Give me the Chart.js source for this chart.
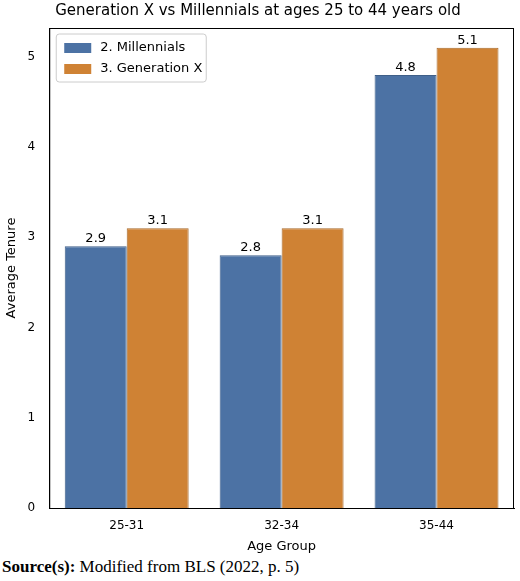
<!DOCTYPE html>
<html>
<head>
<meta charset="utf-8">
<script src="https://cdn.jsdelivr.net/npm/chart.js@4"></script>
<style>
  body { margin: 0; background: #fff; }
  #wrap { width: 520px; height: 556px; }
  #source { font-family: "Liberation Serif", "Times New Roman", serif; font-size: 17px; margin: 0 0 0 2px; line-height: 22px; }
</style>
</head>
<body>
<div id="wrap"><canvas id="barChart"></canvas></div>
<div id="source"><b>Source(s):</b> Modified from BLS (2022, p. 5)</div>
<script>
const ageGroups = ["25-31", "32-34", "35-44"];
const millennials = [2.9, 2.8, 4.8];
const generationX = [3.1, 3.1, 5.1];
const yTicks = [0, 1, 2, 3, 4, 5];

const extras = {
  id: "extras",
  afterDatasetsDraw(chart) {
    const ctx = chart.ctx;
    const a = chart.chartArea;
    ctx.save();
    // bar value labels
    ctx.fillStyle = "#000";
    ctx.font = "13px 'DejaVu Sans'";
    ctx.textAlign = "center";
    ctx.textBaseline = "bottom";
    chart.data.datasets.forEach((ds, i) => {
      chart.getDatasetMeta(i).data.forEach((bar, j) => {
        ctx.fillText(ds.data[j].toFixed(1), bar.x, bar.y - 1);
      });
    });
    // frame around plot
    ctx.strokeStyle = "#000";
    ctx.lineWidth = 1;
    ctx.strokeRect(a.left + 0.5, a.top + 0.5, a.right - a.left - 1, a.bottom - a.top);
    // legend
    const lx = a.left + 7, ly = a.top + 6;
    ctx.fillStyle = "rgba(255,255,255,0.85)";
    ctx.strokeStyle = "#ccc";
    ctx.beginPath();
    ctx.roundRect(lx, ly, 150, 48, 3);
    ctx.fill();
    ctx.stroke();
    ctx.textAlign = "left";
    ctx.textBaseline = "middle";
    chart.data.datasets.forEach((ds, i) => {
      const y = ly + 14 + i * 21;
      ctx.fillStyle = ds.backgroundColor;
      ctx.fillRect(lx + 8, y - 5, 27, 10);
      ctx.fillStyle = "#000";
      ctx.fillText(ds.label, lx + 44, y);
    });
    ctx.restore();
  }
};

const ctx = document.getElementById("barChart").getContext("2d");
new Chart(ctx, {
  type: "bar",
  data: {
    labels: ageGroups,
    datasets: [
      { label: "2. Millennials", data: millennials, backgroundColor: "#4c72a4", borderColor: "#3f5f88", borderWidth: 1 },
      { label: "3. Generation X", data: generationX, backgroundColor: "#cf8234", borderColor: "#a8692a", borderWidth: 1 }
    ]
  },
  options: {
    responsive: true,
    maintainAspectRatio: false,
    animation: false,
    layout: { padding: { left: 2, right: 6, top: 0, bottom: 0 } },
    datasets: { bar: { categoryPercentage: 0.8, barPercentage: 1 } },
    plugins: {
      title: { display: true, text: "Generation X vs Millennials at ages 25 to 44 years old", color: "#000", font: { family: "DejaVu Sans", size: 15, weight: "normal" }, padding: { top: 2, bottom: 8 } },
      legend: { display: false },
      tooltip: { enabled: false }
    },
    scales: {
      x: {
        grid: { display: false },
        border: { color: "#000" },
        ticks: { color: "#000", font: { family: "DejaVu Sans", size: 12 } },
        title: { display: true, text: "Age Group", color: "#000", font: { family: "DejaVu Sans", size: 13 }, padding: 2 }
      },
      y: {
        min: 0, max: 5.32,
        grid: { display: false },
        border: { color: "#000" },
        afterBuildTicks(axis) { axis.ticks = yTicks.map(v => ({ value: v })); },
        ticks: { color: "#000", font: { family: "DejaVu Sans", size: 12 }, padding: 6 },
        title: { display: true, text: "Average Tenure", color: "#000", font: { family: "DejaVu Sans", size: 13 }, padding: 2 }
      }
    }
  },
  plugins: [extras]
});
</script>
</body>
</html>
